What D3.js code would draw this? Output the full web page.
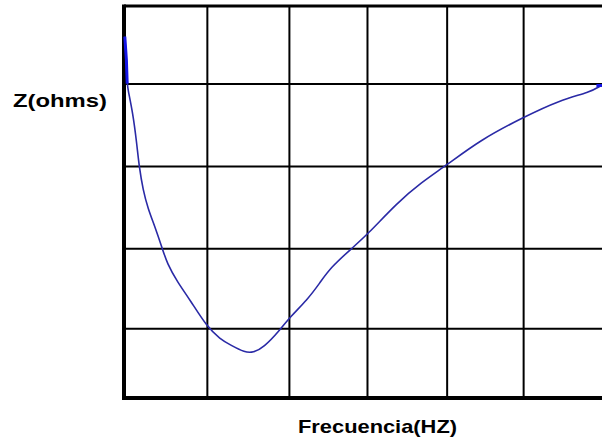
<!DOCTYPE html>
<html>
<head>
<meta charset="utf-8">
<script src="https://cdn.jsdelivr.net/npm/d3@7"></script>
<style>
  html, body { margin: 0; padding: 0; background: #fff; }
  svg { display: block; }
</style>
</head>
<body>
<div id="chart"></div>
<script>
// impedance curve (x = grid columns, y = grid rows)
var freq = [0.01, 0.03, 0.04, 0.05, 0.11, 0.16, 0.19, 0.24, 0.30, 0.39, 0.48, 0.54, 0.67, 0.83,
            1.04, 1.21, 1.33, 1.52, 1.62, 1.75, 1.96, 2.08, 2.30, 2.46, 2.59, 2.86, 3.05, 3.43,
            3.72, 4.05, 4.47, 5.01, 5.47, 5.85, 5.98];
var ohms = [4.61, 4.31, 4.01, 3.93, 3.64, 3.25, 2.95, 2.65, 2.42, 2.18, 1.91, 1.72, 1.48, 1.25,
            0.91, 0.75, 0.68, 0.58, 0.58, 0.64, 0.87, 1.03, 1.25, 1.47, 1.66, 1.91, 2.08, 2.49,
            2.74, 2.97, 3.29, 3.58, 3.80, 3.90, 3.98];

// grid line positions as they sit in the picture
var xGrid = [1.04, 2.07, 3.05, 4.05, 5.01];
var yGrid = [0.89, 1.91, 2.96, 4.01];

var xLabel = 'Frecuencia(HZ)';
var yLabel = 'Z(ohms)';

var width = 602, height = 445;
var margin = {top: 6, right: 0, bottom: 47, left: 124};

var svg = d3.select('#chart').append('svg')
    .attr('width', width)
    .attr('height', height);

var x = d3.scaleLinear().domain([0, 6]).range([margin.left, width - margin.right]);
var y = d3.scaleLinear().domain([0, 5]).range([height - margin.bottom, margin.top]);

// grid
svg.append('g')
    .attr('transform', 'translate(0,' + (height - margin.bottom) + ')')
    .call(d3.axisBottom(x).tickValues(xGrid).tickSize(-(y(0) - y(5))).tickFormat(''))
    .call(function(g) {
        g.select('.domain').remove();
        g.selectAll('line').attr('stroke', '#000').attr('stroke-width', 2);
    });

svg.append('g')
    .attr('transform', 'translate(' + margin.left + ',0)')
    .call(d3.axisLeft(y).tickValues(yGrid).tickSize(-(x(6) - x(0))).tickFormat(''))
    .call(function(g) {
        g.select('.domain').remove();
        g.selectAll('line').attr('stroke', '#000').attr('stroke-width', 2);
    });

// frame (left, top, bottom)
svg.append('line')
    .attr('x1', x(0)).attr('x2', x(6))
    .attr('y1', y(5)).attr('y2', y(5))
    .attr('stroke', '#000').attr('stroke-width', 3);
svg.append('line')
    .attr('x1', x(0) - 2).attr('x2', x(6))
    .attr('y1', y(0)).attr('y2', y(0))
    .attr('stroke', '#000').attr('stroke-width', 4);
svg.append('line')
    .attr('x1', x(0)).attr('x2', x(0))
    .attr('y1', y(5) - 1.5).attr('y2', y(0) + 2)
    .attr('stroke', '#000').attr('stroke-width', 4);

// the curve
var pts = freq.map(function(f, i) { return [f, ohms[i]]; });

var line = d3.line()
    .x(function(d) { return x(d[0]); })
    .y(function(d) { return y(d[1]); })
    .curve(d3.curveBasis);

svg.append('path')
    .datum(pts)
    .attr('fill', 'none')
    .attr('stroke', '#2a2aa6')
    .attr('stroke-width', 1.6)
    .attr('d', line);

// brighter, heavier start where the trace hugs the left border
svg.append('path')
    .datum(pts.slice(0, 3))
    .attr('fill', 'none')
    .attr('stroke', '#1515e6')
    .attr('stroke-width', 3)
    .attr('d', d3.line().x(function(d) { return x(d[0]); }).y(function(d) { return y(d[1]); }));

// small blob at the end of the trace
var last = pts[pts.length - 1];
svg.append('rect')
    .attr('x', x(last[0]) - 4).attr('y', y(last[1]) - 2)
    .attr('width', 6).attr('height', 3)
    .attr('fill', '#1515e6');

// labels
svg.append('text')
    .attr('x', 13).attr('y', 107)
    .attr('textLength', 94)
    .attr('lengthAdjust', 'spacingAndGlyphs')
    .style('font-family', '"Liberation Sans", Arial, sans-serif')
    .style('font-weight', 'bold')
    .style('font-size', '19px')
    .text(yLabel);

svg.append('text')
    .attr('x', 298).attr('y', 433)
    .attr('textLength', 159)
    .attr('lengthAdjust', 'spacingAndGlyphs')
    .style('font-family', '"Liberation Sans", Arial, sans-serif')
    .style('font-weight', 'bold')
    .style('font-size', '19px')
    .text(xLabel);
</script>
</body>
</html>
